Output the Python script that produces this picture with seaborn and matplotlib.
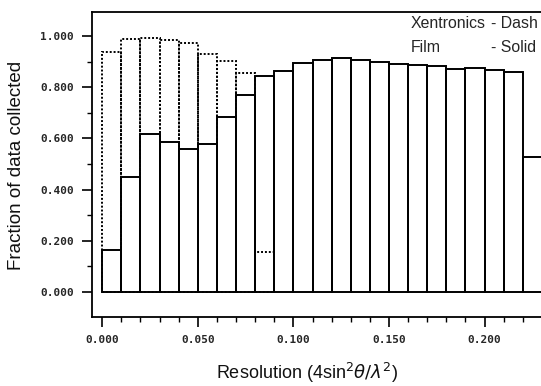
import matplotlib
matplotlib.use("Agg")
import matplotlib.pyplot as plt
import seaborn as sns
from matplotlib.ticker import MultipleLocator, FormatStrFormatter

# Resolution shells (lower bound, upper bound) in 4 sin^2(theta)/lambda^2
shell_edges = [0.00, 0.01, 0.02, 0.03, 0.04, 0.05, 0.06, 0.07, 0.08, 0.09,
               0.10, 0.11, 0.12, 0.13, 0.14, 0.15, 0.16, 0.17, 0.18, 0.19,
               0.20, 0.21, 0.22, 0.23]
shell_centers = [0.005, 0.015, 0.025, 0.035, 0.045, 0.055, 0.065, 0.075, 0.085,
                 0.095, 0.105, 0.115, 0.125, 0.135, 0.145, 0.155, 0.165, 0.175,
                 0.185, 0.195, 0.205, 0.215, 0.225]

# Fraction of data collected
film = [0.163, 0.448, 0.618, 0.586, 0.558, 0.578, 0.682, 0.771, 0.845,
        0.865, 0.893, 0.905, 0.914, 0.905, 0.898, 0.889, 0.887, 0.884,
        0.870, 0.875, 0.867, 0.859, 0.526]
xentronics = [0.939, 0.987, 0.993, 0.986, 0.974, 0.931, 0.904, 0.854, 0.156]

sns.set_style("ticks")
plt.rcParams['font.family'] = ['Liberation Sans', 'DejaVu Sans']

W, H = 541, 386
fig = plt.figure(figsize=(W / 100, H / 100), dpi=100)
left, right, top, bottom = 92.3, 541.0, 12.0, 316.7
ax = fig.add_axes([left / W, 1 - bottom / H, (right - left) / W, (bottom - top) / H])

n_x = len(xentronics)
sns.histplot(x=shell_centers[:n_x], weights=xentronics, bins=shell_edges[:n_x + 1],
             fill=False, element="bars", color="black", linewidth=1.4,
             linestyle=(0, (1.0, 1.0)), ax=ax)
sns.histplot(x=shell_centers, weights=film, bins=shell_edges,
             fill=False, element="bars", color="black", linewidth=1.4, ax=ax)

ax.set_xlim(-0.0052, 0.2295)
ax.set_ylim(-0.0965, 1.094)

for s in ["left", "top", "bottom"]:
    ax.spines[s].set_visible(True)
    ax.spines[s].set_linewidth(1.3)
    ax.spines[s].set_color("black")
ax.spines["right"].set_visible(False)

ax.xaxis.set_major_locator(MultipleLocator(0.05))
ax.xaxis.set_minor_locator(MultipleLocator(0.01))
ax.yaxis.set_major_locator(MultipleLocator(0.2))
ax.yaxis.set_minor_locator(MultipleLocator(0.1))
ax.xaxis.set_major_formatter(FormatStrFormatter("%.3f"))
ax.yaxis.set_major_formatter(FormatStrFormatter("%.3f"))
ax.tick_params(which="major", length=7, width=1.2, color="black", pad=6)
ax.tick_params(which="minor", length=3.5, width=1.0, color="black")
ax.tick_params(axis="y", which="both", right=False)
ax.tick_params(axis="x", which="both", top=False)
for lab in ax.get_xticklabels() + ax.get_yticklabels():
    lab.set_fontfamily("DejaVu Sans Mono")
    lab.set_fontweight("bold")
    lab.set_fontsize(8)

ax.set_ylabel("Fraction of data collected", fontsize=13.5, color="#111111")
ax.set_xlabel(r"Resolution (4sin$^2\theta/\lambda^2$)", fontsize=13, color="#111111")
ax.xaxis.label.set_va("center")
ax.yaxis.set_label_coords((25 - left) / (right - left), 0.498)
ax.xaxis.set_label_coords((307 - left) / (right - left), -(373 - bottom) / (bottom - top))

fx = lambda px: (px - left) / (right - left)
fy = lambda py: (bottom - py) / (bottom - top)
ax.text(fx(411), fy(23), "Xentronics", transform=ax.transAxes, fontsize=11.4,
        va="center", ha="left")
ax.text(fx(490.7), fy(23), "- Dash", transform=ax.transAxes, fontsize=11.4,
        va="center", ha="left")
ax.text(fx(411), fy(47), "Film", transform=ax.transAxes, fontsize=11.4,
        va="center", ha="left")
ax.text(fx(490.7), fy(47), "- Solid", transform=ax.transAxes, fontsize=11.4,
        va="center", ha="left")

fig.savefig("out.png", dpi=100)
